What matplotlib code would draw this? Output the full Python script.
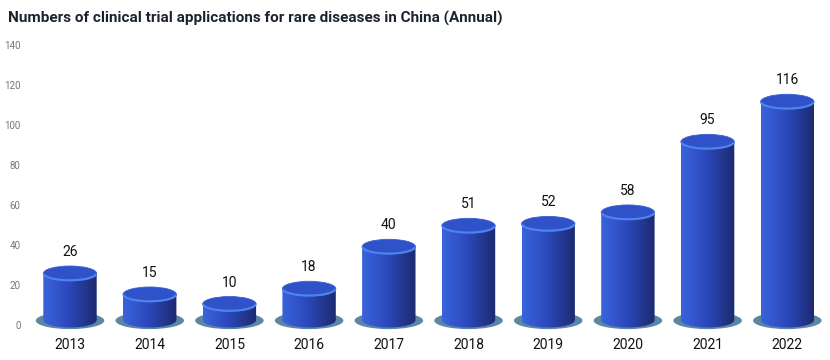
import numpy as np
import matplotlib.pyplot as plt
from matplotlib.patches import Ellipse, PathPatch
from matplotlib.path import Path
from matplotlib.colors import LinearSegmentedColormap

# annual clinical trial applications for rare diseases in China
years = ['2013', '2014', '2015', '2016', '2017', '2018', '2019', '2020', '2021', '2022']
counts = [26, 15, 10, 18, 40, 51, 52, 58, 95, 116]
yticks = [0, 20, 40, 60, 80, 100, 120, 140]

plt.rcParams['font.family'] = ['Roboto', 'DejaVu Sans']

fig = plt.figure(figsize=(8.3, 3.6), dpi=100)
ax = fig.add_axes([30.15 / 830, 1 - 335 / 360, 797 / 830, 294 / 360])

body_cmap = LinearSegmentedColormap.from_list('body', ['#3a64dc', '#2a47b8', '#1c2a6e'])
grad = np.linspace(0, 1, 256).reshape(1, -1)

w = 0.67        # cylinder width (category units)
eh = 7.5        # ellipse height (data units, ~15px)
base = 2.5      # cylinder sits slightly above zero

for i, v in enumerate(counts):
    # shadow disc under the cylinder
    ax.add_patch(Ellipse((i, base - 0.3), 0.86, 8.5, facecolor='#5b87a5', edgecolor='none', zorder=1))

    # 3d cylinders are a bit squashed vs the axis (perspective), like the original
    top_edge = 4.7 + 0.954 * v
    top = top_edge - eh / 2
    x0, x1 = i - w / 2, i + w / 2
    t = np.linspace(np.pi, 2 * np.pi, 40)
    arc_x = i + w / 2 * np.cos(t)
    arc_y = base + eh / 2 * np.sin(t)
    verts = [(x0, top)] + list(zip(arc_x, arc_y)) + [(x1, top), (x0, top)]
    codes = [Path.MOVETO] + [Path.LINETO] * (len(verts) - 2) + [Path.CLOSEPOLY]
    body = PathPatch(Path(verts, codes), facecolor='none', edgecolor='none', transform=ax.transData)
    ax.add_patch(body)
    im = ax.imshow(grad, cmap=body_cmap, extent=[x0, x1, base - eh, top + eh],
                   aspect='auto', zorder=2, interpolation='bilinear')
    im.set_clip_path(body)

    # top cap with lighter front rim
    ax.add_patch(Ellipse((i, top), w, eh, facecolor='#2f52c9', edgecolor='#3a60d6', lw=0.6, zorder=3))
    rim = np.linspace(np.pi * 1.05, np.pi * 1.95, 40)
    ax.plot(i + w / 2 * np.cos(rim) * 0.98, top + eh / 2 * np.sin(rim) * 0.9,
            color='#4f84ee', lw=1.5, zorder=4, solid_capstyle='round')

    ax.text(i, top_edge + 7, str(v), ha='center', va='center', fontsize=10, color='#111111')

ax.set_xlim(-0.5, 9.5)
ax.set_ylim(-5, 142)
ax.set_xticks(range(len(years)))
ax.set_xticklabels(years, fontsize=10, color='#111111')
ax.set_yticks(yticks)
ax.set_yticklabels([str(t) for t in yticks], fontsize=7, color='#777777')
ax.tick_params(axis='both', length=0)
ax.tick_params(axis='x', pad=2)
ax.tick_params(axis='y', pad=7)
for s in ax.spines.values():
    s.set_visible(False)

fig.text(8 / 830, 1 - 18 / 360, 'Numbers of clinical trial applications for rare diseases in China (Annual)',
         fontsize=11, fontweight='bold', color='#1b2333', ha='left', va='center')

fig.savefig('out.png', dpi=100)
